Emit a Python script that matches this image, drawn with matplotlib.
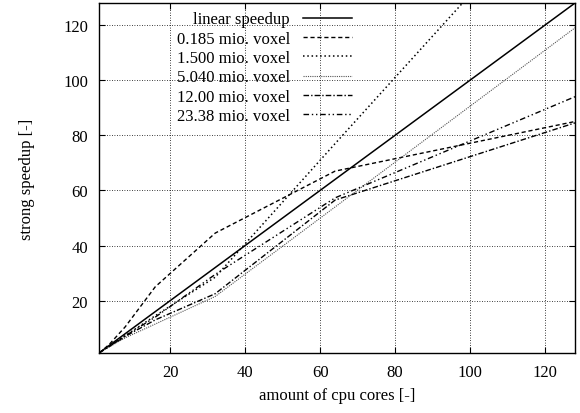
import matplotlib.pyplot as plt

# cpu cores and measured strong speedup per mesh size
cores = [1, 2, 4, 8, 16, 32, 64, 128]
linear = [1, 2, 4, 8, 16, 32, 64, 128]
s_0185 = [1, 2, 4.5, 10.5, 25, 44.5, 67, 85]
s_1500 = [1, 1.9, 3.7, 7.3, 14.5, 28.5, 77, 173]
s_5040 = [1, 1.8, 3.4, 6.5, 11.5, 21.5, 54, 119]
s_1200 = [1, 1.9, 3.6, 7, 13, 22.5, 56.5, 84.5]
s_2338 = [1, 1.9, 3.7, 7.2, 14, 29.5, 57.3, 94]

labels = ['linear speedup', '0.185 mio. voxel', '1.500 mio. voxel',
          '5.040 mio. voxel', '12.00 mio. voxel', '23.38 mio. voxel']
x_ticks = [20, 40, 60, 80, 100, 120]
y_ticks = [20, 40, 60, 80, 100, 120]

plt.rcParams['font.family'] = ['Liberation Serif', 'DejaVu Serif']
plt.rcParams['font.size'] = 12

fig = plt.figure(figsize=(5.8, 4.14), dpi=100)
ax = fig.add_axes([0.1707, 0.145, 0.8207, 0.8453])

ax.plot(cores, linear, color='black', lw=1.1, label=labels[0])
ax.plot(cores, s_0185, color='black', lw=1.0, dashes=(3, 2), label=labels[1])
ax.plot(cores, s_1500, color='black', lw=1.1, dashes=(1, 1.8), label=labels[2])
ax.plot(cores, s_5040, color='#555555', lw=0.8, dashes=(1, 1), label=labels[3])
ax.plot(cores, s_1200, color='black', lw=1.0, dashes=(4, 1.5, 1, 1.5), label=labels[4])
ax.plot(cores, s_2338, color='black', lw=1.0, dashes=(4, 2, 1, 2, 1, 2), label=labels[5])

ax.set_xlim(1, 128)
ax.set_ylim(1, 128)
ax.set_xticks(x_ticks)
ax.set_yticks(y_ticks)
ax.tick_params(direction='in', length=4, width=0.8, top=True, right=True, pad=8)
ax.grid(True, color='black', lw=0.6, dashes=(1, 2))
for sp in ax.spines.values():
    sp.set_linewidth(1.0)

ax.set_xlabel('amount of cpu cores [-]', labelpad=5)
ax.set_ylabel('strong speedup [-]', labelpad=20)

leg = ax.legend(loc='upper right', bbox_to_anchor=(0.545, 0.995), frameon=False,
                markerfirst=False, handlelength=2.9, handletextpad=0.8,
                labelspacing=0.2, borderaxespad=0.2, borderpad=0.2)
for col in leg._legend_handle_box.get_children():
    col.align = 'right'

fig.savefig('out.png', dpi=100)
